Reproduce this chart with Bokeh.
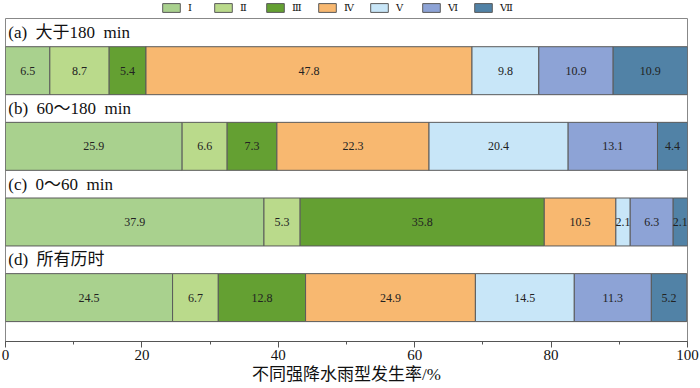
from bokeh.plotting import figure
from bokeh.layouts import column
from bokeh.models import ColumnDataSource, Range1d, Legend, LegendItem, SingleIntervalTicker
from bokeh.core.properties import value
from bokeh.embed import file_html
from bokeh.resources import INLINE

# ---- data ----
categories = ["(a)\u2002大于180\u2002min", "(b)\u200260～180\u2002min",
              "(c)\u20020～60\u2002min", "(d)\u2002所有历时"]
series_names = ["Ⅰ", "Ⅱ", "Ⅲ", "Ⅳ", "Ⅴ", "Ⅵ", "Ⅶ"]
type_I = [6.5, 25.9, 37.9, 24.5]
type_II = [8.7, 6.6, 5.3, 6.7]
type_III = [5.4, 7.3, 35.8, 12.8]
type_IV = [47.8, 22.3, 10.5, 24.9]
type_V = [9.8, 20.4, 2.1, 14.5]
type_VI = [10.9, 13.1, 6.3, 11.3]
type_VII = [10.9, 4.4, 2.1, 5.2]
series_values = [type_I, type_II, type_III, type_IV, type_V, type_VI, type_VII]
colors = ["#A9D18E", "#BADA8B", "#64A032", "#F8B870", "#C8E6F8", "#8DA3D6", "#5182A6"]
x_ticks_interval = 20
x_title = "不同强降水雨型发生率/%"

SERIF = "Liberation Serif, DejaVu Serif, Noto Sans CJK SC"
CJK = "Liberation Serif, Noto Sans CJK SC"
EDGE = "#5a5a5a"

# ---- main chart ----
p = figure(width=700, height=372, output_backend="svg", toolbar_location=None,
           x_range=Range1d(0, 100), y_range=Range1d(3.58, -0.69),
           min_border_left=5, min_border_right=13, min_border_top=2, min_border_bottom=47)

ys = list(range(len(categories)))
left = [0.0] * len(categories)
lab_x, lab_y, lab_t = [], [], []
for name, vals, col in zip(series_names, series_values, colors):
    right = [l + v for l, v in zip(left, vals)]
    src = ColumnDataSource(dict(y=ys, left=left, right=right))
    p.hbar(y="y", left="left", right="right", height=0.634, source=src,
           fill_color=col, line_color=EDGE, line_width=1)
    for yy, l, v in zip(ys, left, vals):
        lab_x.append(l + v / 2)
        lab_y.append(yy)
        lab_t.append(f"{v:.1f}")
    left = right

p.text(x="x", y="y", text="t", source=ColumnDataSource(dict(x=lab_x, y=lab_y, t=lab_t)),
       text_align="center", text_baseline="middle", text_font=value(SERIF),
       text_font_size="12px", text_color="#222222")

p.text(x=[0.4] * len(categories), y=[yy - 0.5 for yy in ys], text=categories,
       text_align="left", text_baseline="middle", text_font=value(CJK),
       text_font_size="17px", text_color="#111111")

p.xaxis.ticker = SingleIntervalTicker(interval=x_ticks_interval, num_minor_ticks=2)
p.xaxis.major_tick_in = 0
p.xaxis.major_tick_out = 6
p.xaxis.minor_tick_in = 0
p.xaxis.minor_tick_out = 3
p.xaxis.axis_line_color = "#555555"
p.xaxis.major_tick_line_color = "#555555"
p.xaxis.minor_tick_line_color = "#555555"
p.xaxis.major_label_text_font = SERIF
p.xaxis.major_label_text_font_size = "15px"
p.xaxis.major_label_text_color = "#111111"
p.xaxis.major_label_standoff = 2
p.xaxis.axis_label = x_title
p.xaxis.axis_label_text_font = CJK
p.xaxis.axis_label_text_font_size = "17px"
p.xaxis.axis_label_text_font_style = "normal"
p.xaxis.axis_label_text_color = "#111111"
p.xaxis.axis_label_standoff = 2
p.yaxis.visible = False
p.xgrid.visible = False
p.ygrid.visible = False
p.outline_line_color = "#888888"
p.outline_line_width = 1

# ---- legend strip on top (proxy renderers kept outside the visible range) ----
lg = figure(width=700, height=16, output_backend="svg", toolbar_location=None,
            x_range=Range1d(0, 700), y_range=Range1d(0, 16), min_border=0)
lg.axis.visible = False
lg.grid.visible = False
lg.outline_line_color = None
items = []
for name, col in zip(series_names, colors):
    r = lg.hbar(y=[-100], left=[0], right=[1], height=1,
                fill_color=col, line_color=EDGE, line_width=1)
    items.append(LegendItem(label=name, renderers=[r]))
legend = Legend(items=items, orientation="horizontal", location=(155, 3),
                glyph_width=22, glyph_height=11, label_standoff=6, spacing=4,
                label_width=20, padding=0, margin=0, border_line_alpha=0,
                background_fill_alpha=0, label_text_font=SERIF,
                label_text_font_size="10px", label_text_color="#111111",
                label_height=11)
lg.add_layout(legend)

layout = column(lg, p, spacing=0)
open("out.html", "w").write(file_html(layout, INLINE))
